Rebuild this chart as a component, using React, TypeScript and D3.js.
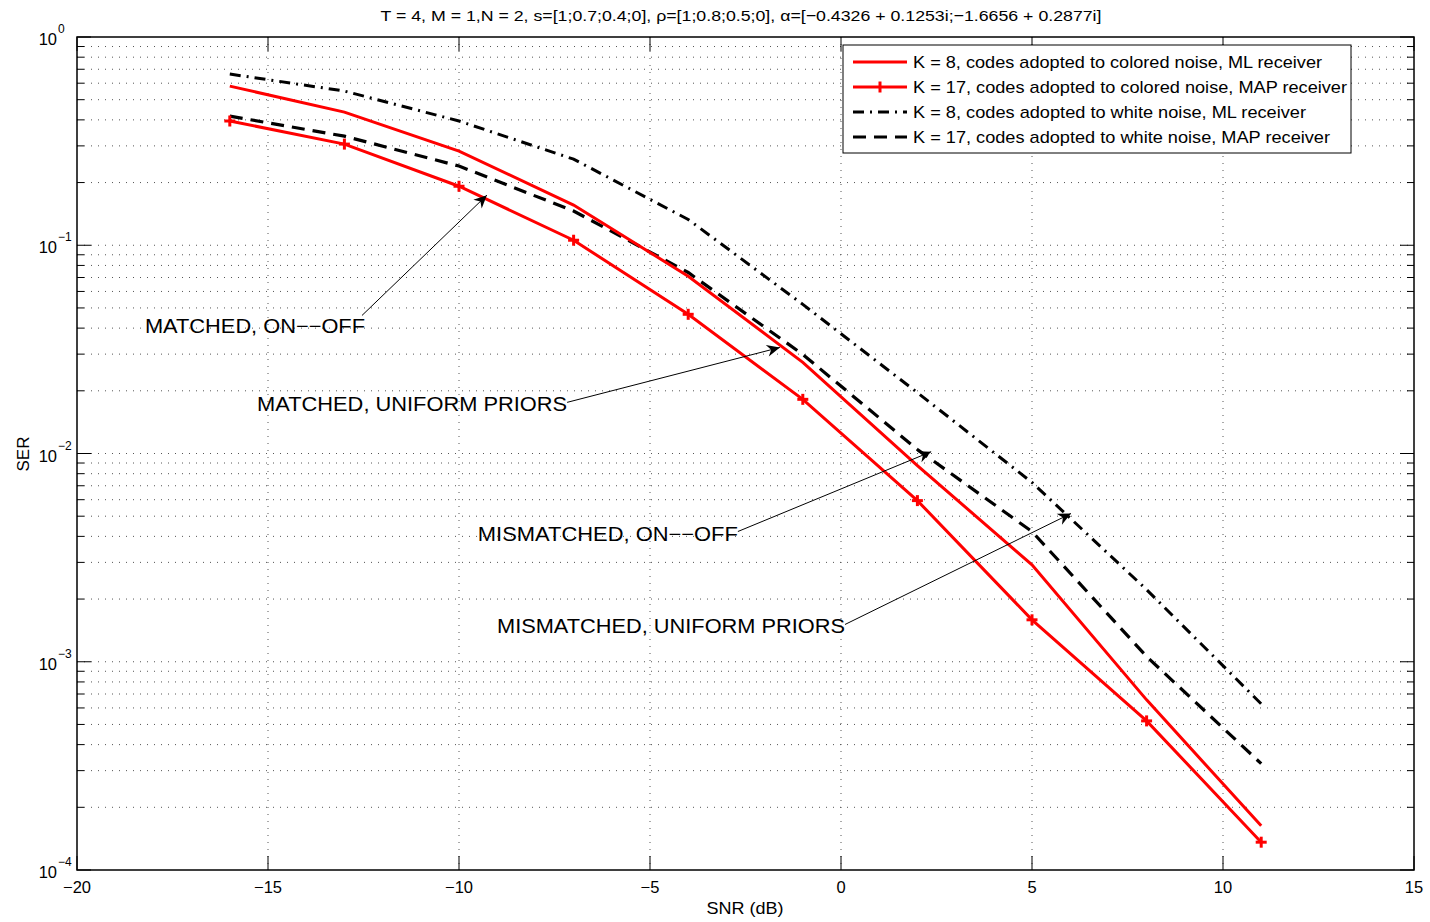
import React from "react";
import * as d3 from "d3";

// SNR grid (dB) shared by all four curves
const snr = [-16, -13, -10, -7, -4, -1, 2, 5, 8, 11];

// Symbol error rates
const serColoredML = [0.581, 0.436, 0.283, 0.156, 0.071, 0.0274, 0.00875, 0.00292, 0.000656, 0.000163];
const serColoredMAP = [0.395, 0.306, 0.192, 0.1057, 0.0466, 0.0182, 0.00594, 0.00159, 0.00052, 0.000136];
const serWhiteML = [0.664, 0.55, 0.395, 0.259, 0.133, 0.052, 0.0196, 0.00726, 0.00222, 0.000628];
const serWhiteMAP = [0.417, 0.334, 0.24, 0.146, 0.074, 0.0299, 0.01045, 0.00422, 0.00106, 0.000324];

const legendLabels = [
  "K = 8, codes adopted to colored noise, ML receiver",
  "K = 17, codes adopted to colored noise, MAP receiver",
  "K = 8, codes adopted to white noise, ML receiver",
  "K = 17, codes adopted to white noise, MAP receiver",
];
const legendWidths = [409, 434, 393, 417];

const xTicks = [-20, -15, -10, -5, 0, 5, 10, 15];
const yDecades = [0, -1, -2, -3, -4];

// Annotation arrows: label, tail (snr, ser), head (snr, ser)
const noteLabels = ["MATCHED, ON\u2212\u2212OFF", "MATCHED, UNIFORM PRIORS", "MISMATCHED, ON\u2212\u2212OFF", "MISMATCHED, UNIFORM PRIORS"];
const noteWidths = [220, 310, 260, 348];
const noteTails: [number, number][] = [[-12.54, 0.046], [-7.17, 0.0176], [-2.70, 0.00422], [0.105, 0.00151]];
const noteHeads: [number, number][] = [[-9.27, 0.174], [-1.60, 0.0323], [2.36, 0.0102], [6.02, 0.00515]];

const W = 1430, H = 922;
const L = 77, R = 1414, T = 37, B = 870;
const FONT = "'Liberation Sans', Arial, Helvetica, sans-serif";

export default function App() {
  const x = d3.scaleLinear().domain([-20, 15]).range([L, R]);
  const y = d3.scaleLog().domain([1e-4, 1]).range([B, T]);

  const line = d3
    .line<[number, number]>()
    .x((d) => x(d[0]))
    .y((d) => y(d[1]));
  const pts = (vals: number[]) => snr.map((s, i) => [s, vals[i]] as [number, number]);

  // minor log ticks
  const minor: number[] = [];
  for (let e = -4; e < 0; e++) for (let m = 2; m <= 9; m++) minor.push(m * Math.pow(10, e));

  const grid = { stroke: "#555", strokeWidth: 1, strokeDasharray: "1,6", fill: "none" } as const;

  const arrowHead = (x1: number, y1: number, x2: number, y2: number) => {
    const a = Math.atan2(y2 - y1, x2 - x1);
    const len = 13, wid = 6, notch = 9;
    const p = (dx: number, dy: number) =>
      [x2 + dx * Math.cos(a) - dy * Math.sin(a), y2 + dx * Math.sin(a) + dy * Math.cos(a)].join(",");
    return `M${p(0, 0)}L${p(-len, -wid)}L${p(-notch, 0)}L${p(-len, wid)}Z`;
  };

  const legendY = [62, 87, 112, 137];

  return (
    <svg
      width={W}
      height={H}
      style={{ position: "absolute", left: 0, top: 0, background: "#fff" }}
      fontFamily={FONT}
    >
      <rect x={0} y={0} width={W} height={H} fill="#fff" />
      <rect x={L} y={T} width={R - L} height={B - T} fill="#fff" />

      {/* grid */}
      {xTicks.slice(1, -1).map((t) => (
        <line key={"gx" + t} x1={x(t)} x2={x(t)} y1={T} y2={B} {...grid} />
      ))}
      {minor.concat(yDecades.slice(1, -1).map((e) => Math.pow(10, e))).map((v, i) => (
        <line key={"gy" + i} x1={L} x2={R} y1={y(v)} y2={y(v)} {...grid} />
      ))}

      {/* ticks */}
      {xTicks.map((t) => (
        <g key={"tx" + t} stroke="#000" strokeWidth={1}>
          <line x1={x(t)} x2={x(t)} y1={B} y2={B - 14} />
          <line x1={x(t)} x2={x(t)} y1={T} y2={T + 14} />
        </g>
      ))}
      {yDecades.map((e) => (
        <g key={"ty" + e} stroke="#000" strokeWidth={1}>
          <line x1={L} x2={L + 14} y1={y(Math.pow(10, e))} y2={y(Math.pow(10, e))} />
          <line x1={R} x2={R - 14} y1={y(Math.pow(10, e))} y2={y(Math.pow(10, e))} />
        </g>
      ))}
      {minor.map((v, i) => (
        <g key={"tm" + i} stroke="#000" strokeWidth={1}>
          <line x1={L} x2={L + 7} y1={y(v)} y2={y(v)} />
          <line x1={R} x2={R - 7} y1={y(v)} y2={y(v)} />
        </g>
      ))}

      {/* curves */}
      <path d={line(pts(serWhiteML)) || ""} fill="none" stroke="#000" strokeWidth={3} strokeDasharray="11,6,2,6" />
      <path d={line(pts(serWhiteMAP)) || ""} fill="none" stroke="#000" strokeWidth={3.2} strokeDasharray="13,8" />
      <path d={line(pts(serColoredML)) || ""} fill="none" stroke="#ff0000" strokeWidth={3} />
      <path d={line(pts(serColoredMAP)) || ""} fill="none" stroke="#ff0000" strokeWidth={3} />
      {pts(serColoredMAP).map((d, i) => (
        <g key={"mk" + i} stroke="#ff0000" strokeWidth={3}>
          <line x1={x(d[0]) - 5.5} x2={x(d[0]) + 5.5} y1={y(d[1])} y2={y(d[1])} />
          <line x1={x(d[0])} x2={x(d[0])} y1={y(d[1]) - 5.5} y2={y(d[1]) + 5.5} />
        </g>
      ))}

      {/* annotations */}
      {noteLabels.map((lab, i) => {
        const x1 = x(noteTails[i][0]), y1 = y(noteTails[i][1]);
        const x2 = x(noteHeads[i][0]), y2 = y(noteHeads[i][1]);
        return (
          <g key={"note" + i}>
            <line x1={x1} y1={y1} x2={x2} y2={y2} stroke="#000" strokeWidth={1} />
            <path d={arrowHead(x1, y1, x2, y2)} fill="#000" />
            <text
              x={x1 + (i === 0 ? 3 : 0)}
              y={y1 + (i === 0 ? 18 : 9)}
              fontSize={20}
              textAnchor="end"
              fill="#000"
              textLength={noteWidths[i]}
              lengthAdjust="spacingAndGlyphs"
            >
              {lab}
            </text>
          </g>
        );
      })}

      {/* axes box */}
      <rect x={L} y={T} width={R - L} height={B - T} fill="none" stroke="#000" strokeWidth={1.5} />

      {/* tick labels */}
      {xTicks.map((t) => (
        <text key={"lx" + t} x={x(t)} y={B + 23} fontSize={16.5} textAnchor="middle" fill="#000">
          {t < 0 ? "\u2212" + Math.abs(t) : String(t)}
        </text>
      ))}
      {yDecades.map((e) => (
        <g key={"ly" + e}>
          <text x={57} y={y(Math.pow(10, e)) + 8} fontSize={16.5} textAnchor="end" fill="#000">
            10
          </text>
          <text x={58} y={y(Math.pow(10, e)) - 4} fontSize={12} textAnchor="start" fill="#000">
            {e === 0 ? "0" : "\u2212" + Math.abs(e)}
          </text>
        </g>
      ))}

      {/* axis titles */}
      <text x={745} y={914} fontSize={17} textAnchor="middle" fill="#000" textLength={77} lengthAdjust="spacingAndGlyphs">
        SNR (dB)
      </text>
      <text transform="translate(29,454) rotate(-90)" fontSize={17} textAnchor="middle" fill="#000">
        SER
      </text>
      <text x={741} y={21} fontSize={15.5} textAnchor="middle" fill="#000" textLength={721} lengthAdjust="spacingAndGlyphs">
        T = 4, M = 1,N = 2, s=[1;0.7;0.4;0], ρ=[1;0.8;0.5;0], α=[−0.4326 + 0.1253i;−1.6656 + 0.2877i]
      </text>

      {/* legend */}
      <rect x={843} y={45} width={508} height={108} fill="#fff" stroke="#000" strokeWidth={1} />
      {legendLabels.map((lab, i) => {
        const ly = legendY[i];
        const stroke = i < 2 ? "#ff0000" : "#000";
        const dash = i === 2 ? "11,6,2,6" : i === 3 ? "13,8" : undefined;
        return (
          <g key={"lg" + i}>
            <line x1={853} x2={907} y1={ly} y2={ly} stroke={stroke} strokeWidth={3} strokeDasharray={dash} />
            {i === 1 && <line x1={880} x2={880} y1={ly - 5.5} y2={ly + 5.5} stroke="#ff0000" strokeWidth={3} />}
            <text x={913} y={ly + 6} fontSize={17} fill="#000" textLength={legendWidths[i]} lengthAdjust="spacingAndGlyphs">
              {lab}
            </text>
          </g>
        );
      })}
    </svg>
  );
}
